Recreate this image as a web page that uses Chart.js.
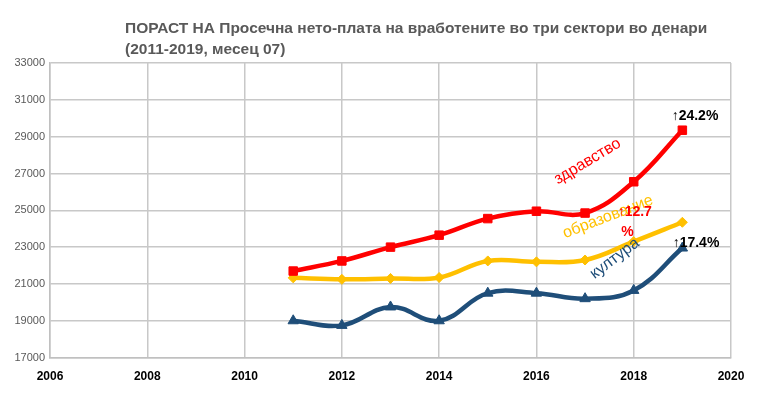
<!DOCTYPE html>
<html><head><meta charset="utf-8">
<script src="https://cdn.jsdelivr.net/npm/chart.js@4/dist/chart.umd.min.js"></script>
<style>html,body{margin:0;padding:0;background:#fff}#wrap{width:763px;height:399px;position:relative}</style>
</head><body><div id="wrap"><canvas id="c" width="763" height="399"></canvas></div>
<script>
const years = [2011,2012,2013,2014,2015,2016,2017,2018,2019];
const zdravstvo = [21700,22250,23000,23650,24550,24950,24850,26550,29350];
const obrazovanie = [21330,21250,21300,21350,22250,22200,22300,23300,24350];
const kultura = [19000,18750,19750,19000,20500,20500,20200,20650,22950];
const seriesNames = ['здравство','образование','култура'];
const xTicks = [2006,2008,2010,2012,2014,2016,2018,2020];
const yTicks = [17000,19000,21000,23000,25000,27000,29000,31000,33000];
const titleLines = ['ПОРАСТ НА Просечна нето-плата на вработените во три сектори во денари','(2011-2019, месец 07)'];
// text labels: [text, x(year), y(value), angle deg, color, font, align]
const labels = [
  ['здравство', 2017.05, 27650, -31, '#ff0000', '16px "Liberation Sans"', 'center'],
  ['образование', 2017.47, 24640, -21, '#ffc000', '16px "Liberation Sans"', 'center'],
  ['култура', 2017.61, 22380, -37, '#1f4e79', '16px "Liberation Sans"', 'center'],
  ['↑24.2%', 2018.78, 30100, 0, '#000000', 'bold 14px "Liberation Sans"', 'left'],
  ['↑12.7', 2017.67, 24910, 0, '#ff0000', 'bold 14px "Liberation Sans"', 'left'],
  ['%', 2017.87, 23840, 0, '#ff0000', 'bold 14px "Liberation Sans"', 'center'],
  ['↑17.4%', 2018.8, 23240, 0, '#000000', 'bold 14px "Liberation Sans"', 'left']
];
const toPts = arr => years.map((y,i)=>({x:y,y:arr[i]}));
const colors = ['#ff0000','#ffc000','#1f4e79'];
const styles = ['rect','rectRot','triangle'];
const dataArr = [zdravstvo, obrazovanie, kultura];

const overlay = {
  id:'overlay',
  afterDraw(chart){
    const ctx = chart.ctx, xs = chart.scales.x, ys = chart.scales.y;
    ctx.save();
    ctx.fillStyle = '#595959';
    ctx.font = 'bold 15.5px "Liberation Sans"';
    ctx.textBaseline = 'alphabetic';
    ctx.textAlign = 'left';
    ctx.fillText(titleLines[0], 125, 33);
    ctx.fillText(titleLines[1], 125, 54);
    labels.forEach(l=>{
      ctx.save();
      ctx.translate(xs.getPixelForValue(l[1]), ys.getPixelForValue(l[2]));
      ctx.rotate(l[3]*Math.PI/180);
      ctx.fillStyle = l[4]; ctx.font = l[5]; ctx.textAlign = l[6]; ctx.textBaseline='middle';
      ctx.fillText(l[0],0,0);
      ctx.restore();
    });
    ctx.restore();
  }
};

new Chart(document.getElementById('c'), {
  type:'line',
  data:{datasets: dataArr.map((d,i)=>({
    label: seriesNames[i], data: toPts(d), borderColor: colors[i], backgroundColor: colors[i],
    borderWidth: 4.5, pointStyle: styles[i], pointRadius: i===1?5:6, pointBorderWidth:1,
    tension: 0.4, fill:false
  }))},
  options:{
    responsive:false, animation:false,
    layout:{padding:{top:63,right:32,left:0,bottom:3}},
    plugins:{legend:{display:false}, tooltip:{enabled:false}},
    scales:{
      x:{type:'linear', min:2006, max:2020,
        afterBuildTicks: a=>{a.ticks = xTicks.map(v=>({value:v}));},
        grid:{color:'#c8c8c8', lineWidth:1.5, drawTicks:false},
        border:{color:'#c0c0c0', width:1.5},
        ticks:{color:'#000', font:{family:'"Liberation Sans"', size:12, weight:'bold'}, padding:12, callback:v=>String(v)}},
      y:{min:17000, max:33000,
        afterBuildTicks: a=>{a.ticks = yTicks.map(v=>({value:v}));},
        afterFit: a=>{a.width = 50;},
        grid:{color:'#c8c8c8', lineWidth:1.5, drawTicks:false},
        border:{color:'#c0c0c0', width:1.5},
        ticks:{color:'#595959', font:{family:'"Liberation Sans"', size:11}, padding:5, callback:v=>String(v)}}
    }
  },
  plugins:[overlay]
});
</script></body></html>
